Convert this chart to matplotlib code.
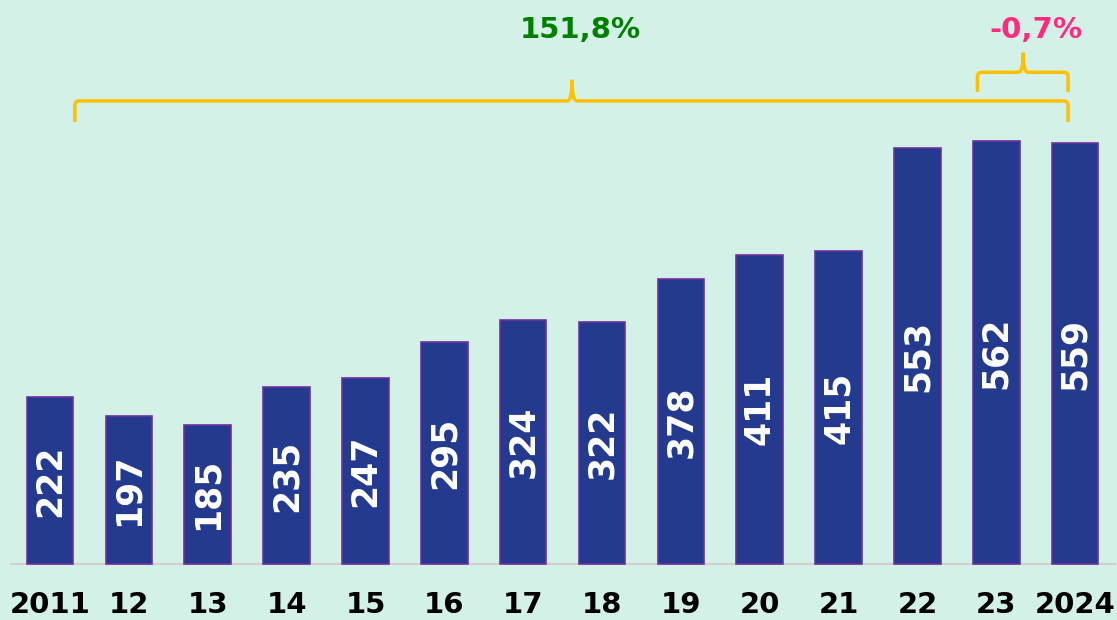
import matplotlib
matplotlib.use('Agg')
import matplotlib.pyplot as plt
from matplotlib.path import Path
from matplotlib.patches import PathPatch

# --- datos ---
years = ['2011', '12', '13', '14', '15', '16', '17', '18', '19', '20', '21', '22', '23', '2024']
values = [222, 197, 185, 235, 247, 295, 324, 322, 378, 411, 415, 553, 562, 559]
total_change = '151,8%'
last_change = '-0,7%'

BG = '#d4f1e8'
BAR = '#243a8e'
EDGE = '#7030a0'
GOLD = '#ffc000'

fig = plt.figure(figsize=(11.17, 6.2), dpi=100, facecolor=BG)
ax = fig.add_axes([0, 0, 1, 1])
ax.set_facecolor(BG)

x = list(range(len(years)))
w = 0.59
ax.bar(x, values, width=w, color=BAR, edgecolor=EDGE, linewidth=1.2, zorder=3)

# valores dentro de las barras
for xi, v in zip(x, values):
    ax.text(xi, v / 2, str(v), rotation=90, ha='center', va='center',
            color='white', fontsize=25, fontweight='bold', zorder=4)

# eje x
ax.set_xlim(-0.634, 13.53)
ax.set_ylim(-74.4, 749)
ax.plot([-0.5, 13.5], [0, 0], color='#d0d0d0', lw=1.5, zorder=2, clip_on=False)
for xi, lab in zip(x, years):
    ax.text(xi, -55, lab, ha='center', va='center', fontsize=21,
            fontweight='bold', color='black')


def brace(x0, x1, xm, y_end, y_line, y_tip, r=0.06, ry=6):
    verts = [(x0, y_end), (x0, y_line - ry), (x0, y_line), (x0 + r, y_line),
             (xm - r, y_line), (xm, y_line), (xm, y_tip),
             (xm, y_line), (xm + r, y_line),
             (x1 - r, y_line), (x1, y_line), (x1, y_line - ry), (x1, y_end)]
    codes = [Path.MOVETO, Path.LINETO, Path.CURVE3, Path.CURVE3,
             Path.LINETO, Path.CURVE3, Path.CURVE3,
             Path.CURVE3, Path.CURVE3,
             Path.LINETO, Path.CURVE3, Path.CURVE3, Path.LINETO]
    ax.add_patch(PathPatch(Path(verts, codes), fill=False, edgecolor=GOLD,
                           lw=2.5, capstyle='butt', zorder=5))


top = max(values)
brace(w / 2 + 0.02, 12.91, 6.62, top + 25, top + 53, top + 81)
brace(11.76, 12.91, 12.34, top + 65, top + 91, top + 117)

ax.text(6.72, 709, total_change, ha='center', va='center', fontsize=21,
        fontweight='bold', color='#008000')
ax.text(12.5, 709, last_change, ha='center', va='center', fontsize=21,
        fontweight='bold', color='#ff2a7f')

ax.axis('off')
fig.savefig('out.png', dpi=100, facecolor=BG)
